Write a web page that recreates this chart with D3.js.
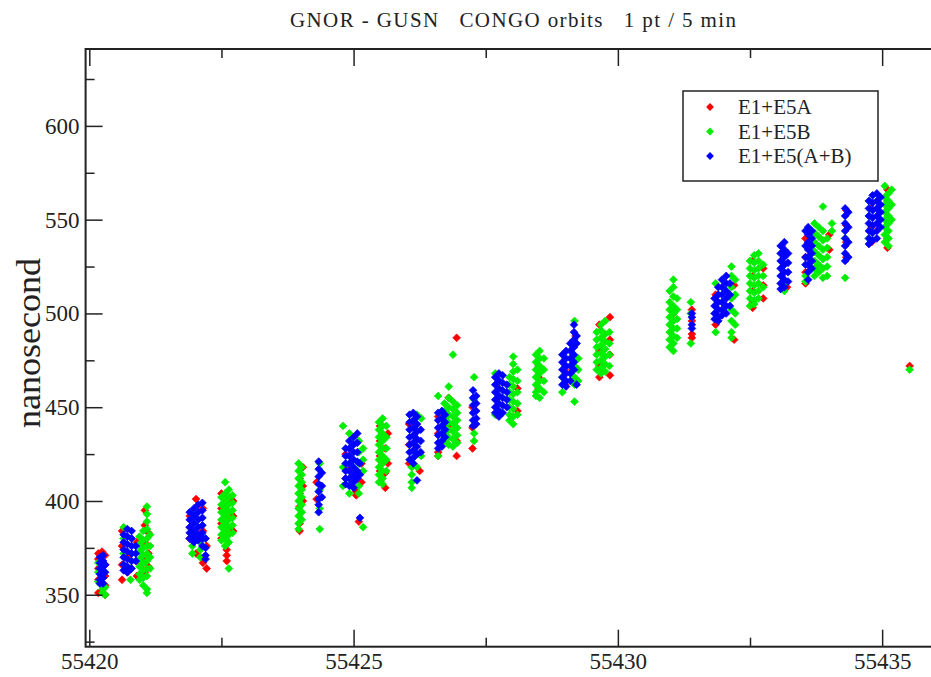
<!DOCTYPE html>
<html>
<head>
<meta charset="utf-8">
<script src="https://cdn.jsdelivr.net/npm/d3@7"></script>
<style>
body{margin:0;background:#fff;}
svg text{font-family:"Liberation Serif","Times New Roman",serif !important;fill:#222;}
</style>
</head>
<body>
<div id="chart"></div>
<script>
/*
 * GNOR - GUSN, CONGO orbits
 * each column: [MJD, ns, ns, ...]
 */

var title = 'GNOR - GUSN   CONGO orbits   1 pt / 5 min';
var yLabel = 'nanosecond';
var seriesNames = ['E1+E5A', 'E1+E5B', 'E1+E5(A+B)'];
var seriesColors = ['#ff0000', '#00ee00', '#0000ff'];
var xMajorTicks = [55420, 55425, 55430, 55435];
var xMinorTicks = [55422.5, 55427.5, 55432.5];
var yMajorTicks = [350, 400, 450, 500, 550, 600];
var yMinorTicks = [325, 375, 425, 475, 525, 575, 625];

var e5a = [
    [55420.17, 372, 369, 364, 358, 351], [55420.30, 371, 366, 360, 355, 350], [55420.24, 373, 352],
    [55420.62, 384, 376, 366, 358], [55420.72, 370, 362], [55420.90, 378, 368, 360],
    [55421.05, 395, 387, 378, 368, 362], [55421.12, 383, 372, 365],
    [55421.90, 392, 386, 380], [55422.02, 401, 372], [55422.15, 396, 384, 367], [55422.22, 364, 376],
    [55422.50, 404, 396, 388, 380], [55422.60, 374, 371, 368], [55422.72, 400, 392, 384],
    [55423.98, 412, 404, 397, 388, 384], [55424.04, 418, 408, 400],
    [55424.30, 410, 401],
    [55424.85, 425, 418, 412], [55425.05, 405, 403], [55425.15, 420, 410], [55425.10, 389],
    [55425.50, 440, 432, 424, 416], [55425.60, 428, 415, 407], [55425.65, 436, 420],
    [55426.05, 441, 430, 420], [55426.25, 425, 416],
    [55426.60, 445, 436, 426, 424], [55426.80, 455, 440], [55426.95, 432, 424, 487],
    [55427.25, 450, 439, 428],
    [55427.70, 462, 454, 446], [55428.10, 460, 448],
    [55428.50, 472, 466, 460],
    [55429.00, 470, 462], [55429.20, 488, 476, 465],
    [55429.65, 494, 480, 472, 466], [55429.85, 498, 486, 478, 467],
    [55431.05, 500],
    [55431.40, 502, 496, 489, 487],
    [55431.85, 510, 500, 494], [55432.20, 515, 486],
    [55432.55, 528, 520, 512, 506, 503], [55432.75, 524, 515, 508],
    [55433.10, 536, 528, 520], [55433.20, 514],
    [55433.55, 540, 530, 522, 516], [55434.00, 542, 534],
    [55434.32, 555, 547, 538, 530],
    [55434.80, 556, 546, 538], [55435.10, 566, 560, 550, 540, 535],
    [55435.52, 472]
];

var e5b = [
    [55420.17, 367, 362, 357], [55420.25, 356, 353, 351], [55420.30, 354, 350],
    [55420.65, 386, 380, 372], [55420.78, 358, 364],
    [55420.95, 381, 377, 373, 369, 365, 361, 358], [55421.02, 384, 379, 375, 371, 367, 363, 359, 355],
    [55421.09, 397, 393, 389, 385, 380, 376, 372, 368, 364, 360, 353, 351], [55421.15, 382, 376, 370, 364],
    [55421.95, 380, 376, 372], [55422.10, 378, 374, 370],
    [55422.50, 402, 398, 394, 390, 386, 382, 379], [55422.57, 404, 400, 396, 392, 388, 384, 380, 376, 410],
    [55422.64, 406, 402, 398, 394, 390, 386, 382, 378, 364], [55422.71, 403, 399, 395, 391, 387, 383],
    [55423.96, 420, 416, 412, 408, 404, 400, 396, 392, 388, 385], [55424.02, 418, 414, 410, 406, 402, 398, 394, 390],
    [55424.36, 420, 406, 396, 385],
    [55424.80, 440, 418, 408], [55424.92, 436, 404], [55425.10, 432, 426, 420, 414, 408, 404], [55425.18, 428, 422, 416, 386],
    [55425.48, 442, 438, 434, 430, 426, 422, 418, 414, 410], [55425.55, 444, 440, 436, 432, 428, 424, 420, 416, 412, 409],
    [55425.62, 440, 434, 428, 422, 416],
    [55426.10, 418, 414, 410, 407], [55426.20, 446, 418], [55426.28, 444, 424],
    [55426.72, 452, 448, 444, 440, 436, 432], [55426.80, 455, 450, 446, 442, 438, 434, 430, 461],
    [55426.88, 453, 449, 445, 441, 437, 433, 429, 478], [55426.96, 451, 447, 443, 439, 435, 431], [55426.60, 456, 424],
    [55427.28, 466, 454, 436, 432],
    [55427.68, 468, 446], [55427.95, 466, 462, 458, 454, 450, 446, 443],
    [55428.02, 477, 473, 469, 465, 461, 457, 453, 449, 445, 441], [55428.10, 470, 464, 458, 452, 446],
    [55428.45, 478, 474, 470, 466, 462, 458, 456], [55428.52, 480, 476, 472, 468, 464, 460, 455], [55428.60, 476, 470, 464, 458],
    [55428.95, 466, 458], [55429.18, 496, 472, 466, 462, 453], [55429.25, 476, 470, 464],
    [55429.60, 490, 486, 482, 478, 474, 470], [55429.68, 494, 491, 487, 483, 479, 475, 471, 468],
    [55429.76, 496, 489, 485, 481, 477, 473, 469], [55429.84, 490, 484, 478, 472],
    [55430.98, 512, 506, 502, 498, 494, 490, 486, 482], [55431.05, 518, 514, 509, 504, 500, 496, 492, 488, 484, 480],
    [55431.12, 508, 502, 497, 492, 487],
    [55431.38, 506, 500, 484],
    [55431.85, 516, 490], [55432.15, 525, 520, 514, 508, 502, 496, 490, 487], [55432.22, 518, 510, 500, 494],
    [55432.50, 528, 524, 520, 516, 512, 508, 504], [55432.58, 531, 527, 523, 519, 515, 511, 507, 505],
    [55432.66, 532, 528, 524, 520, 516, 512, 508], [55432.75, 526, 520, 514],
    [55433.15, 512, 516],
    [55433.55, 520, 517], [55433.72, 548, 543, 538, 533, 528, 524, 520], [55433.80, 546, 541, 536, 531, 526, 522],
    [55433.88, 557, 544, 539, 534, 529, 524, 519], [55433.96, 540, 535, 530, 525, 520], [55434.05, 548, 544],
    [55434.30, 519, 540],
    [55434.75, 560, 552, 540], [55435.05, 568, 562, 558, 554, 550, 546, 542, 538],
    [55435.12, 564, 560, 556, 552, 548, 544, 540, 536], [55435.18, 566, 558, 550],
    [55435.52, 470]
];

var e5ab = [
    [55420.20, 370, 367, 364, 361, 358, 356], [55420.26, 371, 368, 365, 362, 359, 356], [55420.30, 366, 362],
    [55420.65, 382, 378, 374, 370, 366, 363], [55420.72, 385, 381, 377, 373, 369, 365, 362],
    [55420.80, 384, 380, 376, 372, 368, 364], [55420.88, 376, 372, 368],
    [55421.90, 394, 390, 386, 383, 380], [55421.98, 396, 392, 388, 384, 381, 378],
    [55422.06, 398, 394, 390, 386, 382, 379], [55422.14, 399, 395, 391, 387, 383, 380, 376], [55422.20, 380, 375, 371, 369],
    [55424.34, 421, 417, 413, 409, 405, 401, 398, 394], [55424.40, 415, 408, 402],
    [55424.85, 428, 424, 420, 416, 412, 409], [55424.92, 432, 428, 424, 420, 416, 412, 408],
    [55425.00, 434, 430, 426, 422, 418, 414, 410, 407], [55425.07, 436, 431, 426, 421, 416, 412], [55425.12, 420, 414, 391],
    [55426.06, 446, 442, 438, 434, 430, 426, 422], [55426.13, 447, 443, 439, 435, 431, 427, 423, 420],
    [55426.20, 445, 441, 437, 433, 429, 425, 411], [55426.27, 438, 432, 426],
    [55426.60, 447, 443, 439, 435, 431, 428], [55426.67, 448, 444, 440, 436, 432, 429], [55426.73, 446, 442, 438, 434],
    [55427.26, 459, 455, 451, 447, 443, 440], [55427.32, 456, 452, 448, 444, 441],
    [55427.68, 466, 462, 458, 454, 450, 447], [55427.75, 468, 464, 460, 456, 452, 448, 445],
    [55427.82, 467, 463, 459, 455, 451, 447], [55427.90, 462, 458, 454, 450],
    [55428.95, 478, 474, 470, 466, 462], [55429.02, 480, 476, 472, 468, 464, 461],
    [55429.10, 484, 480, 476, 472, 468, 464], [55429.17, 494, 490, 486, 482, 478, 474, 470], [55429.22, 488, 484, 462],
    [55431.40, 500, 498, 494, 492],
    [55431.83, 508, 504, 500, 497], [55431.90, 514, 510, 506, 502, 498, 496],
    [55431.97, 518, 514, 510, 506, 502, 499], [55432.05, 520, 516, 512, 508, 504, 500], [55432.12, 516, 510, 504],
    [55433.08, 536, 532, 528, 524, 520, 516, 513], [55433.15, 538, 534, 530, 526, 522, 518, 514], [55433.22, 532, 527, 522, 517],
    [55433.55, 544, 536, 530, 526], [55433.60, 546, 542, 538, 534, 530, 526, 522, 518], [55433.67, 544, 540, 536, 532, 528, 524],
    [55434.30, 556, 552, 548, 544, 540, 536, 532, 528], [55434.36, 554, 546, 538, 530],
    [55434.75, 560, 556, 552, 548, 544, 540, 537], [55434.82, 563, 559, 555, 551, 547, 543, 539],
    [55434.90, 564, 560, 556, 552, 548, 544, 540], [55434.97, 562, 558, 554, 550, 546]
];

(function(){
    var W = 931, H = 677;
    var mL = 85.6, mR = 935, mT = 49, mB = 646.7;
    var serif = '"Liberation Serif", "Times New Roman", serif';

    var svg = d3.select('#chart').append('svg')
        .attr('width', W).attr('height', H)
        .attr('font-family', serif);

    var x = d3.scaleLinear().domain([55419.93, 55436]).range([mL, mR]);
    var y = d3.scaleLinear().domain([322.3, 641]).range([mB, mT]);

    // column -> points
    function toPoints(cols){
        return cols.flatMap(function(c){
            return c.slice(1).map(function(v){ return {t: c[0], v: v}; });
        });
    }

    var sq = 5.5;
    var diamond = d3.symbol().type(d3.symbolSquare).size(sq * sq);

    var plot = svg.append('g');
    [e5a, e5b, e5ab].forEach(function(cols, i){
        plot.append('g')
            .selectAll('path')
            .data(toPoints(cols))
            .enter()
            .append('path')
            .attr('d', diamond)
            .attr('transform', function(d){
                return 'translate(' + x(d.t) + ',' + y(d.v) + ') rotate(45)';
            })
            .attr('fill', seriesColors[i])
            .attr('stroke', seriesColors[i])
            .attr('stroke-width', 0.7);
    });

    // frame + inward ticks
    function tickAxis(axis, pos, values, size, labels){
        var g = svg.append('g')
            .attr('transform', pos)
            .call(axis.tickValues(values).tickSize(size).tickPadding(6)
                .tickFormat(labels ? d3.format('d') : ''));
        g.attr('font-family', serif);
        g.select('.domain').remove();
        g.selectAll('.tick line').attr('stroke', '#222').attr('stroke-width', 1.5);
        g.selectAll('.tick text').attr('font-size', 23).attr('fill', '#222')
            .attr('font-family', serif);
        return g;
    }

    tickAxis(d3.axisBottom(x), 'translate(0,' + mB + ')', xMajorTicks, -17, true);
    tickAxis(d3.axisBottom(x), 'translate(0,' + mB + ')', xMinorTicks, -9, false);
    tickAxis(d3.axisTop(x), 'translate(0,' + mT + ')', xMajorTicks, -17, false);
    tickAxis(d3.axisTop(x), 'translate(0,' + mT + ')', xMinorTicks, -9, false);
    tickAxis(d3.axisLeft(y), 'translate(' + mL + ',0)', yMajorTicks, -17, true);
    tickAxis(d3.axisLeft(y), 'translate(' + mL + ',0)', yMinorTicks, -9, false);

    svg.append('rect')
        .attr('x', mL).attr('y', mT)
        .attr('width', mR - mL).attr('height', mB - mT)
        .attr('fill', 'none').attr('stroke', '#222').attr('stroke-width', 2);

    svg.append('text')
        .attr('x', 513).attr('y', 27)
        .attr('text-anchor', 'middle').attr('font-size', 21)
        .attr('font-family', serif)
        .attr('textLength', 446).attr('lengthAdjust', 'spacing')
        .attr('xml:space', 'preserve')
        .text(title);

    svg.append('text')
        .attr('transform', 'translate(40,343) rotate(-90)')
        .attr('text-anchor', 'middle').attr('font-size', 34)
        .attr('font-family', serif)
        .attr('textLength', 170).attr('lengthAdjust', 'spacingAndGlyphs')
        .text(yLabel);

    // legend
    var lg = svg.append('g').attr('transform', 'translate(683,91)');
    lg.append('rect')
        .attr('width', 195).attr('height', 90)
        .attr('fill', '#fff').attr('stroke', '#222').attr('stroke-width', 1.5);
    seriesNames.forEach(function(name, i){
        var row = lg.append('g').attr('transform', 'translate(0,' + (16 + i * 24.5) + ')');
        row.append('path')
            .attr('d', diamond)
            .attr('transform', 'translate(27,0) rotate(45)')
            .attr('fill', seriesColors[i]);
        row.append('text')
            .attr('x', 55).attr('y', 7)
            .attr('font-size', 21)
            .attr('font-family', serif)
            .text(name);
    });
})();
</script>
</body>
</html>
